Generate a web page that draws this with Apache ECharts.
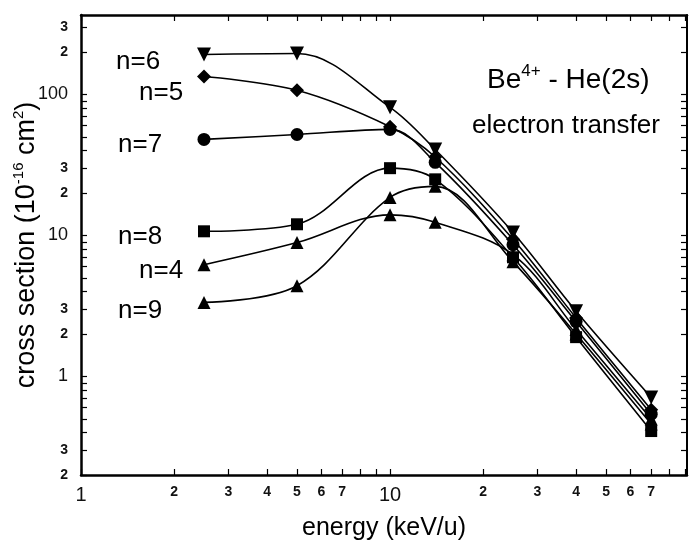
<!DOCTYPE html>
<html>
<head>
<meta charset="utf-8">
<script src="https://cdn.jsdelivr.net/npm/echarts@6/dist/echarts.min.js"></script>
<style>
html,body{margin:0;padding:0;background:#fff;}
#c{width:691px;height:545px;}
</style>
</head>
<body>
<div id="c"></div>
<script>
// ---- data ----
var energy = [2.5, 5, 10, 14, 25, 40, 70];
var n4 = [6.2, 8.9, 14, 12.4, 7.3, 2.15, 0.50];
var n5 = [134, 107, 59, 36, 9.4, 2.6, 0.58];
var n6 = [192, 195, 81, 40.7, 10.5, 2.9, 0.71];
var n7 = [48, 52, 56.5, 33, 8.6, 2.45, 0.54];
var n8 = [10.7, 12, 30, 25, 7.0, 1.9, 0.41];
var n9 = [3.35, 4.4, 18.6, 22.3, 6.5, 2.0, 0.46];
var xTickLabels = [1, 2, 3, 4, 5, 6, 7, 10, 20, 30, 40, 50, 60, 70];
var yTickLabels = [0.2, 0.3, 1, 2, 3, 10, 20, 30, 100, 200, 300];
var xTicks = [1,2,3,4,5,6,7,8,9,10,20,30,40,50,60,70,80,90];
var yTicks = [0.2,0.3,0.4,0.5,0.6,0.7,0.8,0.9,1,2,3,4,5,6,7,8,9,10,20,30,40,50,60,70,80,90,100,200,300];
var seriesNames = ['n=4','n=5','n=6','n=7','n=8','n=9'];

var FONT = '"Liberation Sans", Arial, Helvetica, sans-serif';
var XMIN = 1, XMAX = 91.4, YMIN = 0.2, YMAX = 366;

function isDecade(v){
  var l = Math.log10(v);
  return Math.abs(l - Math.round(l)) < 1e-6;
}
function tickFmt(v){
  if (isDecade(v)) return '{big|' + (Math.round(v*1000)/1000) + '}';
  var l = Math.floor(Math.log10(v) + 1e-9);
  var d = Math.round(v / Math.pow(10, l));
  return '{small|' + d + '}';
}

function pairs(ys){ return energy.map(function(x,i){ return [x, ys[i]]; }); }

var chart = echarts.init(document.getElementById('c'), null, {renderer:'canvas'});

var lineStyle = {color:'#000', width:1.6};
function mkSeries(name, ys, symbol, size, rot){
  return {
    name: name, type:'line', data: pairs(ys), smooth: 0.35,
    symbol: symbol, symbolSize: size, symbolRotate: rot || 0,
    lineStyle: lineStyle, itemStyle:{color:'#000'},
    xAxisIndex:0, yAxisIndex:0, z: 3
  };
}

var richLab = {
  big:{fontSize:20, fontFamily:FONT, color:'#111'},
  small:{fontSize:14, fontFamily:FONT, color:'#111', fontWeight:'bold'}
};

// helper axes drawn slightly inside the frame so their outward ticks reach the frame (inward-looking ticks)
function xHelper(pos){
  return {type:'log', min:XMIN, max:XMAX, position:pos, offset:-6,
    axisLine:{show:false},
    axisTick:{show:true, inside:false, length:6, customValues:xTicks, lineStyle:{color:'#000', width:1.2}},
    axisLabel:{show:false}, splitLine:{show:false}};
}
function yHelper(pos){
  return {type:'log', min:YMIN, max:YMAX, position:pos, offset:-6,
    axisLine:{show:false},
    axisTick:{show:true, inside:false, length:6, customValues:yTicks, lineStyle:{color:'#000', width:1.2}},
    axisLabel:{show:false}, splitLine:{show:false}};
}

var option = {
  backgroundColor:'#fff',
  animation:false,
  grid:{left:81, right:4, top:15, bottom:70, containLabel:false, outerBoundsMode:'none'},
  xAxis:[{
    type:'log', min:XMIN, max:XMAX, position:'bottom',
    axisLine:{show:true, lineStyle:{color:'#000', width:2.5}},
    axisTick:{show:false},
    axisLabel:{show:true, margin:10, customValues:xTickLabels, formatter:tickFmt, rich:richLab},
    splitLine:{show:false},
    name:'energy (keV/u)', nameLocation:'middle', nameGap:41, nameMoveOverlap:false,
    nameTextStyle:{fontSize:25, fontFamily:FONT, color:'#000'}
  },{
    type:'log', min:XMIN, max:XMAX, position:'top',
    axisLine:{show:true, lineStyle:{color:'#000', width:2.5}},
    axisTick:{show:false}, axisLabel:{show:false}, splitLine:{show:false}
  }, xHelper('bottom'), xHelper('top')],
  yAxis:[{
    type:'log', min:YMIN, max:YMAX, position:'left',
    axisLine:{show:true, lineStyle:{color:'#000', width:2.5}},
    axisTick:{show:false},
    axisLabel:{show:true, margin:13, customValues:yTickLabels, formatter:tickFmt, rich:{
      big:{fontSize:18, fontFamily:FONT, color:'#111'},
      small:{fontSize:14, fontFamily:FONT, color:'#111', fontWeight:'bold'}
    }},
    splitLine:{show:false},
    name:'cross section (10{sup|-16} cm{sup|2})', nameLocation:'middle', nameGap:38, nameRotate:90, nameMoveOverlap:false,
    nameTextStyle:{fontSize:27, fontFamily:FONT, color:'#000', rich:{
      sup:{fontSize:15, fontFamily:FONT, color:'#000', verticalAlign:'top', lineHeight:32}
    }}
  },{
    type:'log', min:YMIN, max:YMAX, position:'right',
    axisLine:{show:true, lineStyle:{color:'#000', width:2}},
    axisTick:{show:false}, axisLabel:{show:false}, splitLine:{show:false}
  }, yHelper('left'), yHelper('right')],
  series:[
    mkSeries(seriesNames[2], n6, 'triangle', 14, 180),
    mkSeries(seriesNames[1], n5, 'diamond', 14),
    mkSeries(seriesNames[3], n7, 'circle', 13),
    mkSeries(seriesNames[4], n8, 'rect', 12),
    mkSeries(seriesNames[0], n4, 'triangle', 13),
    mkSeries(seriesNames[5], n9, 'triangle', 13)
  ],
  graphic:[
    {type:'text', x:116, y:62, style:{text:'n=6', fontSize:26, fontFamily:FONT, fill:'#000', textVerticalAlign:'middle'}},
    {type:'text', x:139, y:93, style:{text:'n=5', fontSize:26, fontFamily:FONT, fill:'#000', textVerticalAlign:'middle'}},
    {type:'text', x:118, y:145, style:{text:'n=7', fontSize:26, fontFamily:FONT, fill:'#000', textVerticalAlign:'middle'}},
    {type:'text', x:118, y:237, style:{text:'n=8', fontSize:26, fontFamily:FONT, fill:'#000', textVerticalAlign:'middle'}},
    {type:'text', x:139, y:271, style:{text:'n=4', fontSize:26, fontFamily:FONT, fill:'#000', textVerticalAlign:'middle'}},
    {type:'text', x:118, y:311, style:{text:'n=9', fontSize:26, fontFamily:FONT, fill:'#000', textVerticalAlign:'middle'}},
    {type:'text', x:487, y:80, style:{text:'Be{sup|4+} - He(2s)', fontSize:28, fontFamily:FONT, fill:'#000', textVerticalAlign:'middle',
      rich:{sup:{fontSize:17, fontFamily:FONT, fill:'#000', verticalAlign:'top', lineHeight:34}}}},
    {type:'text', x:472, y:126, style:{text:'electron transfer', fontSize:26, fontFamily:FONT, fill:'#000', textVerticalAlign:'middle'}}
  ]
};
chart.setOption(option);
</script>
</body>
</html>
